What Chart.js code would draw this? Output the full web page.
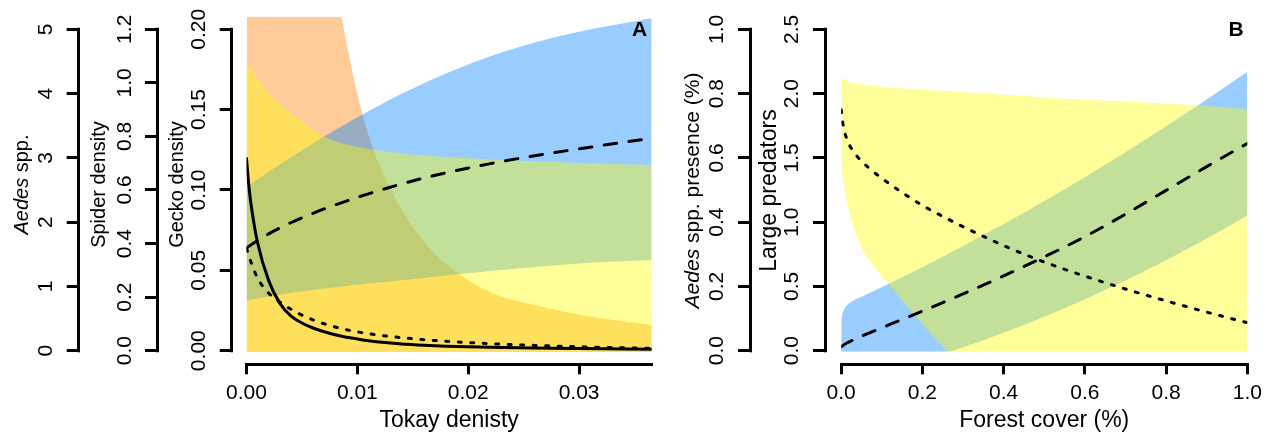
<!DOCTYPE html>
<html>
<head>
<meta charset="utf-8">
<title>Tokay density and forest cover</title>
<script src="https://cdn.jsdelivr.net/npm/chart.js@4.4.1/dist/chart.umd.min.js"></script>
<style>
  html, body { margin: 0; padding: 0; background: #fff; }
  #wrap { position: relative; width: 1268px; height: 433px; overflow: hidden; }
  canvas { position: absolute; top: 0; }
  #panelA { left: 0; }
  #panelB { left: 680px; }
</style>
</head>
<body>
<div id="wrap">
  <canvas id="panelA" width="680" height="433"></canvas>
  <canvas id="panelB" width="588" height="433"></canvas>
</div>
<script>
// ---- Panel A: response to tokay density ----
const tokayX      = [0, 0.00025, 0.0005, 0.001, 0.002, 0.003, 0.004, 0.005, 0.006, 0.007, 0.008, 0.009, 0.010, 0.011, 0.012, 0.014, 0.016, 0.018, 0.022, 0.026, 0.030, 0.03655];
const aedesFit    = [2.99, 2.50, 2.17, 1.68, 1.09, 0.74, 0.54, 0.431, 0.353, 0.294, 0.247, 0.210, 0.182, 0.156, 0.135, 0.104, 0.084, 0.070, 0.053, 0.042, 0.034, 0.023];
const aedesUpper  = [40, 35, 30, 24, 17, 13, 10.5, 8.8, 7.6, 6.6, 5.7, 4.81, 3.99, 3.36, 2.88, 2.19, 1.70, 1.35, 0.91, 0.71, 0.56, 0.40];
const spiderFit   = [0.382, 0.350, 0.320, 0.271, 0.215, 0.182, 0.155, 0.133, 0.115, 0.1005, 0.0885, 0.0785, 0.0703, 0.0635, 0.0578, 0.0485, 0.0412, 0.0352, 0.0262, 0.0198, 0.0148, 0.0085];
const spiderUpper = [1.071, 1.057, 1.043, 1.015, 0.962, 0.921, 0.886, 0.854, 0.824, 0.800, 0.783, 0.770, 0.761, 0.753, 0.747, 0.736, 0.729, 0.723, 0.714, 0.707, 0.701, 0.693];
const geckoFit    = [0.0639, 0.0651, 0.0663, 0.0686, 0.0727, 0.0763, 0.0796, 0.0827, 0.0855, 0.0882, 0.0907, 0.0931, 0.0954, 0.0976, 0.0997, 0.1038, 0.1074, 0.1107, 0.1164, 0.1213, 0.1256, 0.1322];
const geckoUpper  = [0.1021, 0.1032, 0.1044, 0.1067, 0.1113, 0.1158, 0.1203, 0.1247, 0.1290, 0.1332, 0.1373, 0.1413, 0.1452, 0.1490, 0.1527, 0.1598, 0.1664, 0.1725, 0.1832, 0.1917, 0.1984, 0.2068];
const geckoLower  = [0.0311, 0.0314, 0.0318, 0.0324, 0.0337, 0.0348, 0.0359, 0.0369, 0.0378, 0.0387, 0.0395, 0.0403, 0.041, 0.0418, 0.0425, 0.0439, 0.0453, 0.0468, 0.0496, 0.0521, 0.0543, 0.0564];
const tokayTicks  = [0, 0.01, 0.02, 0.03];
const aedesTicks  = [0, 1, 2, 3, 4, 5];
const spiderTicks = [0, 0.2, 0.4, 0.6, 0.8, 1.0, 1.2];
const geckoTicks  = [0, 0.05, 0.10, 0.15, 0.20];

// ---- Panel B: response to forest cover ----
const forestX       = [0, 0.005, 0.015, 0.03, 0.05, 0.08, 0.12, 0.16, 0.2, 0.25, 0.3, 0.4, 0.5, 0.6, 0.7, 0.8, 0.9, 1.0];
const presenceFit   = [0.750, 0.700, 0.655, 0.620, 0.590, 0.556, 0.518, 0.484, 0.452, 0.418, 0.386, 0.327, 0.276, 0.232, 0.192, 0.155, 0.120, 0.087];
const presenceUpper = [0.855, 0.845, 0.839, 0.833, 0.828, 0.824, 0.819, 0.8155, 0.812, 0.809, 0.804, 0.796, 0.788, 0.781, 0.775, 0.768, 0.761, 0.751];
const presenceLower = [0.575, 0.530, 0.460, 0.385, 0.320, 0.263, 0.202, 0.142, 0.083, 0.013, -0.053, -0.18, -0.30, -0.41, -0.51, -0.60, -0.68, -0.75];
const predFit       = [0.030, 0.042, 0.062, 0.0845, 0.1125, 0.152, 0.204, 0.256, 0.308, 0.374, 0.442, 0.582, 0.730, 0.887, 1.062, 1.247, 1.432, 1.612];
const predUpper     = [0.239, 0.305, 0.355, 0.389, 0.419, 0.464, 0.525, 0.587, 0.650, 0.731, 0.814, 0.985, 1.164, 1.350, 1.544, 1.745, 1.954, 2.170];
const predLower     = [-0.248, -0.245, -0.238, -0.226, -0.210, -0.185, -0.151, -0.114, -0.077, -0.027, 0.026, 0.140, 0.264, 0.400, 0.546, 0.704, 0.872, 1.052];
const forestTicks   = [0, 0.2, 0.4, 0.6, 0.8, 1.0];
const presenceTicks = [0, 0.2, 0.4, 0.6, 0.8, 1.0];
const predTicks     = [0, 0.5, 1.0, 1.5, 2.0, 2.5];

const FONT = "'Liberation Sans', Arial, Helvetica, sans-serif";
const ORANGE = 'rgba(255,127,0,0.4)';
const BLUE = 'rgba(0,128,255,0.4)';
const YELLOW = 'rgba(255,255,0,0.4)';

Chart.defaults.font.family = FONT;
Chart.defaults.color = '#000';

const pts = (xs, ys) => xs.map((x, i) => ({ x: x, y: ys[i] }));

const measureCtx = document.createElement('canvas').getContext('2d');
function textWidth(text, font) {
  measureCtx.font = font;
  return measureCtx.measureText(text).width;
}

// y axis drawn R-style: rotated labels centred `dist` px left of the axis line
function yAxis(o) {
  const labels = o.ticks.map(v => v.toFixed(o.digits));
  const widest = Math.max(...labels.map(l => textWidth(l, '21px ' + FONT)));
  return {
    type: 'linear', axis: 'y', position: 'left', weight: o.weight,
    min: o.min, max: o.max,
    afterBuildTicks: s => { s.ticks = o.ticks.map(v => ({ value: v })); },
    afterFit: s => { s.width = o.width; s.paddingTop = 0; s.paddingBottom = 0; },
    grid: { drawOnChartArea: false, tickLength: 12, lineWidth: 3, color: '#000' },
    border: { display: false },
    ticks: {
      autoSkip: false, minRotation: 90, maxRotation: 90, crossAlign: 'center',
      padding: o.dist - 12 - widest / 2, font: { size: 21 },
      callback: v => v.toFixed(o.digits)
    },
    title: o.title
      ? { display: true, text: o.title, font: { size: o.titleSize }, padding: { top: o.titlePad, bottom: 0 } }
      : { display: false }
  };
}

function xAxis(o) {
  return {
    type: 'linear', axis: 'x', position: 'bottom', weight: 1,
    min: o.min, max: o.max,
    afterBuildTicks: s => { s.ticks = o.ticks.map(v => ({ value: v })); },
    afterFit: s => { s.height = 68.7; s.paddingLeft = 0; s.paddingRight = 0; },
    grid: { drawOnChartArea: false, tickLength: 10, lineWidth: 3, color: '#000' },
    border: { display: true, width: 3, color: '#000' },
    ticks: { autoSkip: false, maxRotation: 0, padding: 6.6, font: { size: 21 }, callback: v => v.toFixed(o.digits) },
    title: { display: true, text: o.title, font: { size: 23 }, padding: { top: 0, bottom: -1.5 } }
  };
}

// empty spacer scale: keeps R's gap between axes and the plotting region
function spacer(axis, position, size) {
  return {
    type: 'linear', axis: axis, position: position, weight: 0,
    ticks: { display: false }, grid: { display: false }, border: { display: false },
    afterFit: s => { if (axis === 'x') s.height = size; else s.width = size; }
  };
}

// axis lines (from first to last tick), italic titles and panel letter
function decor(cfg) {
  return {
    id: 'decor',
    afterDraw(chart) {
      const ctx = chart.ctx;
      ctx.save();
      ctx.strokeStyle = '#000';
      ctx.lineWidth = 3;
      ctx.lineCap = 'square';
      cfg.axes.forEach(id => {
        const s = chart.scales[id];
        const x = Math.round(s.right - 1.5) + 1.5;
        ctx.beginPath();
        ctx.moveTo(x, s.getPixelForValue(s.ticks[0].value));
        ctx.lineTo(x, s.getPixelForValue(s.ticks[s.ticks.length - 1].value));
        ctx.stroke();
      });

      const t = cfg.italicTitle;
      const s = chart.scales[t.scale];
      const itFont = 'italic ' + t.size + 'px ' + FONT;
      const upFont = t.size + 'px ' + FONT;
      const w1 = textWidth('Aedes', itFont);
      const w2 = textWidth(t.rest, upFont);
      ctx.translate(s.left + t.offset, (s.top + s.bottom) / 2);
      ctx.rotate(-Math.PI / 2);
      ctx.fillStyle = '#000';
      ctx.textBaseline = 'middle';
      ctx.textAlign = 'left';
      ctx.font = itFont;
      ctx.fillText('Aedes', -(w1 + w2) / 2, 0);
      ctx.font = upFont;
      ctx.fillText(t.rest, -(w1 + w2) / 2 + w1, 0);
      ctx.restore();

      ctx.save();
      ctx.fillStyle = '#000';
      ctx.font = 'bold 21px ' + FONT;
      ctx.textAlign = 'center';
      ctx.textBaseline = 'middle';
      ctx.fillText(cfg.letter, chart.chartArea.right - cfg.letterInset, 30.2);
      ctx.restore();
    }
  };
}

const lineStyle = { pointRadius: 0, pointHoverRadius: 0, borderColor: '#000', borderWidth: 3, fill: false, cubicInterpolationMode: 'monotone', borderCapStyle: 'round', xAxisID: 'x' };
const bandStyle = { pointRadius: 0, pointHoverRadius: 0, borderColor: 'rgba(0,0,0,0)', borderWidth: 0, cubicInterpolationMode: 'monotone', xAxisID: 'x' };
const DOTTED = [3, 9.5];
const DASHED = [12.5, 12.5];

const baseOptions = {
  responsive: false,
  animation: false,
  devicePixelRatio: 1,
  events: [],
  plugins: { legend: { display: false }, tooltip: { enabled: false } }
};

new Chart(document.getElementById('panelA'), {
  type: 'line',
  data: {
    datasets: [
      { ...lineStyle, label: 'Aedes spp.', data: pts(tokayX, aedesFit), yAxisID: 'yAedes' },
      { ...lineStyle, label: 'Spider density', data: pts(tokayX, spiderFit), yAxisID: 'ySpider', borderDash: DOTTED },
      { ...lineStyle, label: 'Gecko density', data: pts(tokayX, geckoFit), yAxisID: 'yGecko', borderDash: DASHED },
      { ...bandStyle, label: 'Spider upper', data: pts(tokayX, spiderUpper), yAxisID: 'ySpider', fill: 'start', backgroundColor: YELLOW },
      { ...bandStyle, label: 'Gecko upper', data: pts(tokayX, geckoUpper), yAxisID: 'yGecko', fill: '+1', backgroundColor: BLUE },
      { ...bandStyle, label: 'Gecko lower', data: pts(tokayX, geckoLower), yAxisID: 'yGecko', fill: false },
      { ...bandStyle, label: 'Aedes upper', data: pts(tokayX, aedesUpper), yAxisID: 'yAedes', fill: 'start', backgroundColor: ORANGE }
    ]
  },
  options: {
    ...baseOptions,
    layout: { padding: { left: 0, right: 28.3, top: 16.7, bottom: 0 } },
    scales: {
      x: xAxis({ min: 0, max: 0.03655, ticks: tokayTicks, digits: 2, title: 'Tokay denisty' }),
      xgap: spacer('x', 'bottom', 12),
      yAedes: yAxis({ ticks: aedesTicks, digits: 0, weight: 3, width: 78.7, dist: 32, min: -0.0249, max: 5.196 }),
      ySpider: yAxis({ ticks: spiderTicks, digits: 1, weight: 2, width: 78.3, dist: 32, min: -0.006, max: 1.247, title: 'Spider density', titleSize: 20, titlePad: 9 }),
      yGecko: yAxis({ ticks: geckoTicks, digits: 2, weight: 1, width: 74.7, dist: 32, min: -0.001, max: 0.2078, title: 'Gecko density', titleSize: 20, titlePad: 8 }),
      ygap: spacer('y', 'left', 14.8)
    }
  },
  plugins: [decor({ axes: ['yAedes', 'ySpider', 'yGecko'], italicTitle: { scale: 'yAedes', rest: ' spp.', size: 20, offset: 22.1 }, letter: 'A', letterInset: 12.2 })]
});

new Chart(document.getElementById('panelB'), {
  type: 'line',
  data: {
    datasets: [
      { ...lineStyle, label: 'Aedes spp. presence', data: pts(forestX, presenceFit), yAxisID: 'yPres', borderDash: DOTTED },
      { ...lineStyle, label: 'Large predators', data: pts(forestX, predFit), yAxisID: 'yPred', borderDash: DASHED },
      { ...bandStyle, label: 'Presence upper', data: pts(forestX, presenceUpper), yAxisID: 'yPres', fill: '+1', backgroundColor: YELLOW },
      { ...bandStyle, label: 'Presence lower', data: pts(forestX, presenceLower), yAxisID: 'yPres', fill: false },
      { ...bandStyle, label: 'Predators upper', data: pts(forestX, predUpper), yAxisID: 'yPred', fill: '+1', backgroundColor: BLUE },
      { ...bandStyle, label: 'Predators lower', data: pts(forestX, predLower), yAxisID: 'yPred', fill: false }
    ]
  },
  options: {
    ...baseOptions,
    layout: { padding: { left: 0, right: 20.7, top: 29.3, bottom: 0 } },
    scales: {
      x: xAxis({ min: 0, max: 1, ticks: forestTicks, digits: 1, title: 'Forest cover (%)' }),
      xgap: spacer('x', 'bottom', 12.6),
      yPres: yAxis({ ticks: presenceTicks, digits: 1, weight: 2, width: 70, dist: 33, min: -0.0031, max: 1.0 }),
      yPred: yAxis({ ticks: predTicks, digits: 1, weight: 1, width: 75, dist: 33, min: -0.0078, max: 2.5, title: 'Large predators', titleSize: 23, titlePad: 5.8 }),
      ygap: spacer('y', 'left', 16.2)
    }
  },
  plugins: [decor({ axes: ['yPres', 'yPred'], italicTitle: { scale: 'yPres', rest: ' spp. presence (%)', size: 21, offset: 13.5 }, letter: 'B', letterInset: 11.3 })]
});
</script>
</body>
</html>
